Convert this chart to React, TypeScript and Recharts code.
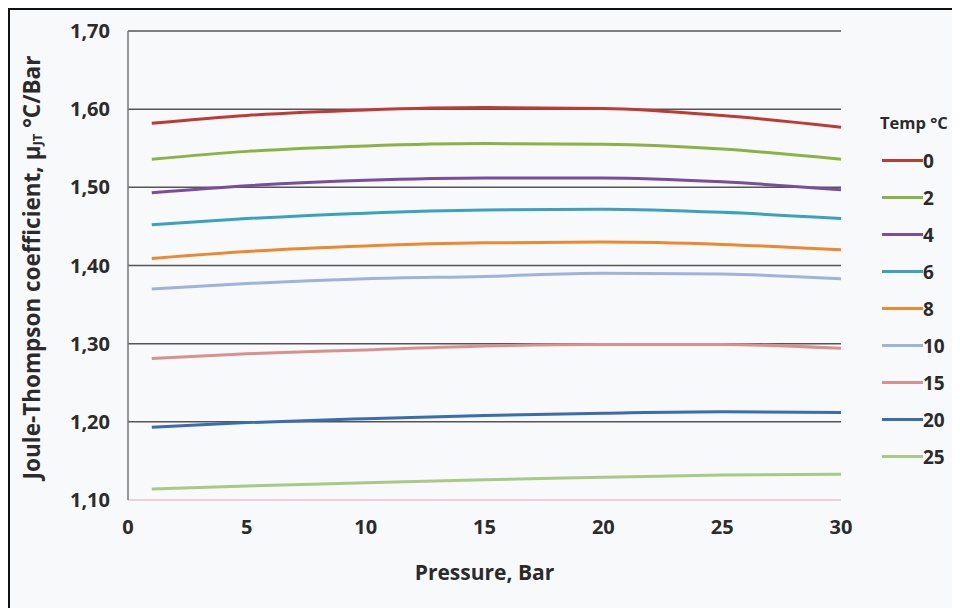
import { CartesianGrid, Line, LineChart, XAxis, YAxis } from "recharts";

const pressures = [1, 5, 10, 15, 20, 25, 30];

const t0 = [1.582, 1.592, 1.599, 1.602, 1.601, 1.592, 1.577];
const t2 = [1.536, 1.546, 1.553, 1.556, 1.555, 1.549, 1.536];
const t4 = [1.493, 1.502, 1.509, 1.512, 1.512, 1.507, 1.497];
const t6 = [1.452, 1.46, 1.467, 1.471, 1.472, 1.468, 1.46];
const t8 = [1.409, 1.418, 1.425, 1.429, 1.43, 1.427, 1.42];
const t10 = [1.37, 1.377, 1.383, 1.386, 1.39, 1.389, 1.383];
const t15 = [1.281, 1.287, 1.292, 1.297, 1.299, 1.299, 1.294];
const t20 = [1.193, 1.199, 1.204, 1.208, 1.211, 1.213, 1.212];
const t25 = [1.114, 1.118, 1.122, 1.126, 1.129, 1.132, 1.133];

const xTicks = [0, 5, 10, 15, 20, 25, 30];
const yTicks = [1.1, 1.2, 1.3, 1.4, 1.5, 1.6, 1.7];
const gridValues = [1.2, 1.3, 1.4, 1.5, 1.6, 1.7];

const series = [
  { key: "t0", label: "0", values: t0, color: "#be3a35" },
  { key: "t2", label: "2", values: t2, color: "#8bb242" },
  { key: "t4", label: "4", values: t4, color: "#7a4d9f" },
  { key: "t6", label: "6", values: t6, color: "#3aa2c0" },
  { key: "t8", label: "8", values: t8, color: "#ec892f" },
  { key: "t10", label: "10", values: t10, color: "#9db3dc" },
  { key: "t15", label: "15", values: t15, color: "#d9918f" },
  { key: "t20", label: "20", values: t20, color: "#3a6cb0" },
  { key: "t25", label: "25", values: t25, color: "#a8ca86" },
];

const rows = pressures.map((p, i) => {
  const row: Record<string, number> = { p };
  series.forEach((s) => (row[s.key] = s.values[i]));
  return row;
});

const FONT = "'Open Sans', 'Noto Sans', sans-serif";
const INK = "#2b2b2b";

function YTitle({ viewBox }: any) {
  const cx = 21;
  const cy = viewBox ? viewBox.y + viewBox.height / 2 + 2 : 258;
  return (
    <text
      x={cx}
      y={cy}
      transform={`rotate(-90, ${cx}, ${cy})`}
      textAnchor="middle"
      dominantBaseline="central"
      fontFamily={FONT}
      fontWeight={700}
      fontSize={22.5}
      fill={INK}
    >
      Joule-Thompson coefficient, μ
      <tspan fontSize={13} dy={6}>JT</tspan>
      <tspan dy={-6}> °C/Bar</tspan>
    </text>
  );
}

export default function App() {
  return (
    <div
      style={{
        position: "relative",
        width: 950,
        height: 598,
        borderTop: "2px solid #111",
        borderLeft: "2px solid #111",
        background: "#f7f9fb",
        fontFamily: FONT,
      }}
    >
      <LineChart
        width={950}
        height={598}
        data={rows}
        margin={{ top: 21, right: 119, bottom: 58, left: 0 }}
      >
        <CartesianGrid
          vertical={false}
          horizontalValues={gridValues}
          stroke="#555"
          strokeWidth={1.5}
        />
        <XAxis
          dataKey="p"
          type="number"
          domain={[0, 30]}
          ticks={xTicks}
          interval={0}
          height={50}
          tickLine={false}
          axisLine={{ stroke: "#e2c6c4", strokeWidth: 1.5 }}
          tick={{ fill: INK, fontSize: 20, fontWeight: 700, fontFamily: FONT }}
          tickMargin={14}
          label={{
            value: "Pressure, Bar",
            position: "insideBottom",
            offset: -30,
            fill: INK,
            fontSize: 21,
            fontWeight: 700,
            fontFamily: FONT,
          }}
        />
        <YAxis
          type="number"
          domain={[1.1, 1.7]}
          ticks={yTicks}
          interval={0}
          width={118}
          tickLine={false}
          axisLine={{ stroke: "#777", strokeWidth: 1.5 }}
          tick={{ fill: INK, fontSize: 20, fontWeight: 700, fontFamily: FONT }}
          tickMargin={12}
          tickFormatter={(v: number) => v.toFixed(2).replace(".", ",")}
          label={{ content: YTitle }}
        />
        {series.map((s) => (
          <Line
            key={s.key}
            dataKey={s.key}
            type="monotone"
            stroke={s.color}
            strokeWidth={3}
            dot={false}
            activeDot={false}
            isAnimationActive={false}
          />
        ))}
      </LineChart>
      <div style={{ position: "absolute", left: 870, top: 101, color: INK }}>
        <div style={{ fontSize: 16.5, fontWeight: 700, lineHeight: "24px", marginBottom: 7, whiteSpace: "nowrap" }}>
          Temp °C
        </div>
        {series.map((s) => (
          <div
            key={s.key}
            style={{ display: "flex", alignItems: "center", height: 37, fontSize: 19, fontWeight: 700 }}
          >
            <span style={{ width: 41, height: 3, background: s.color, display: "inline-block", marginLeft: 2 }} />
            <span>{s.label}</span>
          </div>
        ))}
      </div>
    </div>
  );
}
